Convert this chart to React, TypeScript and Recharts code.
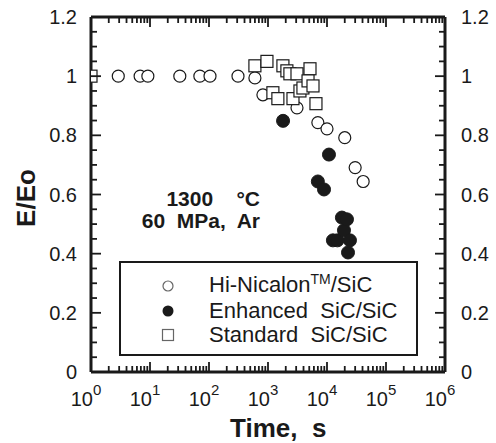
import React from "react";
import { ScatterChart, Scatter, XAxis, YAxis } from "recharts";

// E/Eo vs time (s)
const hiNicalonTime = [2.9, 6.8, 9.2, 32, 70, 104, 310, 600, 820, 3100, 7000, 10000, 20000, 30000, 41000];
const hiNicalonE = [1, 1, 1, 1, 1, 1, 1, 0.994, 0.937, 0.893, 0.843, 0.822, 0.792, 0.691, 0.644];

const enhancedTime = [1800, 7000, 8900, 10800, 12600, 15000, 17900, 19400, 21800, 24500, 22700];
const enhancedE = [0.849, 0.644, 0.617, 0.735, 0.445, 0.445, 0.522, 0.479, 0.516, 0.445, 0.404];

const standardTime = [1, 600, 960, 1790, 2090, 2350, 3100, 5150, 1210, 1470, 2650, 3480, 3910, 4770, 5790, 6500];
const standardE = [1, 1.035, 1.05, 1.035, 1.018, 1.008, 1.008, 1.025, 0.944, 0.924, 0.924, 0.95, 0.96, 0.984, 0.967, 0.907];

const xMajorTicks = [1, 10, 100, 1000, 10000, 100000, 1000000];
const xTickExponents = ["0", "1", "2", "3", "4", "5", "6"];
const yMajorTicks = [0, 0.2, 0.4, 0.6, 0.8, 1, 1.2];
const yTickLabels = ["0", "0.2", "0.4", "0.6", "0.8", "1", "1.2"];

// log minor ticks 2..9 per decade, linear minor every 0.05
const xAllTicks: number[] = [];
xMajorTicks.slice(0, -1).forEach((d) => {
  for (let m = 1; m < 10; m++) xAllTicks.push(d * m);
});
xAllTicks.push(xMajorTicks[xMajorTicks.length - 1]);
const yAllTicks: number[] = [];
for (let k = 0; k <= 24; k++) yAllTicks.push(k * 0.05);

const toPoints = (xs: number[], ys: number[]) => xs.map((x, i) => ({ x, y: ys[i] }));
const hiNicalon = toPoints(hiNicalonTime, hiNicalonE);
const enhanced = toPoints(enhancedTime, enhancedE);
const standard = toPoints(standardTime, standardE);

const FONT = "'Liberation Sans', Arial, Helvetica, sans-serif";
const INK = "#1a1a1a";

const majorX = (v: number) => xMajorTicks.indexOf(v);
const majorY = (v: number) => yMajorTicks.findIndex((t) => Math.abs(t - v) < 1e-6);

function BottomTick({ x, y, payload }: any) {
  const i = majorX(payload.value);
  const len = i >= 0 ? 10 : 6;
  return (
    <g>
      <line x1={x} x2={x} y1={y} y2={y - len} stroke={INK} strokeWidth={1.8} />
      {i >= 0 && (
        <text x={x - 5} y={y + 34} textAnchor="middle" fontFamily={FONT} fontSize={20} fill={INK}>
          10
          <tspan fontSize={15} dy={-11}>{xTickExponents[i]}</tspan>
        </text>
      )}
    </g>
  );
}

function TopTick({ x, y, payload }: any) {
  const len = majorX(payload.value) >= 0 ? 10 : 6;
  return <line x1={x} x2={x} y1={y} y2={y + len} stroke={INK} strokeWidth={1.8} />;
}

function LeftTick({ x, y, payload }: any) {
  const i = majorY(payload.value);
  const len = i >= 0 ? 10 : 6;
  return (
    <g>
      <line x1={x} x2={x + len} y1={y} y2={y} stroke={INK} strokeWidth={1.8} />
      {i >= 0 && (
        <text x={x - 14} y={y + 7} textAnchor="end" fontFamily={FONT} fontSize={20} fill={INK}>
          {yTickLabels[i]}
        </text>
      )}
    </g>
  );
}

function RightTick({ x, y, payload }: any) {
  const i = majorY(payload.value);
  const len = i >= 0 ? 10 : 6;
  return (
    <g>
      <line x1={x} x2={x - len} y1={y} y2={y} stroke={INK} strokeWidth={1.8} />
      {i >= 0 && (
        <text x={x + 16} y={y + 7} textAnchor="start" fontFamily={FONT} fontSize={20} fill={INK}>
          {yTickLabels[i]}
        </text>
      )}
    </g>
  );
}

const OpenCircle = ({ cx, cy }: any) => <circle cx={cx} cy={cy} r={6} fill="#fff" stroke={INK} strokeWidth={1.2} />;
const FilledCircle = ({ cx, cy }: any) => <circle cx={cx} cy={cy} r={6.5} fill={INK} stroke={INK} strokeWidth={1} />;
const OpenSquare = ({ cx, cy }: any) => (
  <rect x={cx - 6} y={cy - 6} width={12} height={12} fill="#fff" stroke={INK} strokeWidth={1.2} />
);

export default function App() {
  return (
    <div style={{ position: "absolute", left: 0, top: 0, width: 496, height: 443, background: "#fff", fontFamily: FONT }}>
      <ScatterChart width={496} height={443} margin={{ top: 16, right: 0, bottom: 0, left: 0 }}>
        <XAxis
          type="number"
          dataKey="x"
          scale="log"
          domain={[1, 1000000]}
          ticks={xAllTicks}
          interval={0}
          height={71}
          tickSize={0}
          tickMargin={0}
          tickLine={false}
          axisLine={{ stroke: INK, strokeWidth: 3 }}
          tick={<BottomTick />}
          allowDataOverflow
        />
        <XAxis
          xAxisId="top"
          orientation="top"
          type="number"
          dataKey="x"
          scale="log"
          domain={[1, 1000000]}
          ticks={xAllTicks}
          interval={0}
          height={1}
          tickSize={0}
          tickMargin={0}
          tickLine={false}
          axisLine={{ stroke: INK, strokeWidth: 3 }}
          tick={<TopTick />}
          allowDataOverflow
        />
        <YAxis
          type="number"
          dataKey="y"
          domain={[0, 1.2]}
          ticks={yAllTicks}
          interval={0}
          width={91}
          tickSize={0}
          tickMargin={0}
          tickLine={false}
          axisLine={{ stroke: INK, strokeWidth: 3 }}
          tick={<LeftTick />}
          allowDataOverflow
        />
        <YAxis
          yAxisId="right"
          orientation="right"
          type="number"
          dataKey="y"
          domain={[0, 1.2]}
          ticks={yAllTicks}
          interval={0}
          width={51}
          tickSize={0}
          tickMargin={0}
          tickLine={false}
          axisLine={{ stroke: INK, strokeWidth: 3 }}
          tick={<RightTick />}
          allowDataOverflow
        />
        <Scatter data={hiNicalon} shape={<OpenCircle />} isAnimationActive={false} />
        <Scatter data={standard} shape={<OpenSquare />} isAnimationActive={false} />
        <Scatter data={enhanced} shape={<FilledCircle />} isAnimationActive={false} />
      </ScatterChart>

      {/* axis titles */}
      <div
        style={{
          position: "absolute",
          left: 26,
          top: 198,
          transform: "translate(-50%, -50%) rotate(-90deg)",
          fontSize: 26,
          fontWeight: 700,
          color: INK,
          whiteSpace: "nowrap",
        }}
      >
        E/Eo
      </div>
      <div
        style={{ position: "absolute", left: 230, top: 413, fontSize: 26, fontWeight: 700, color: INK, whiteSpace: "pre" }}
      >
        {"Time,  s"}
      </div>

      {/* test conditions */}
      <div
        style={{
          position: "absolute",
          right: 496 - 260,
          top: 188,
          fontSize: 21,
          fontWeight: 700,
          color: INK,
          lineHeight: "22px",
          textAlign: "right",
          whiteSpace: "pre",
        }}
      >
        {"1300    °C\n60  MPa,  Ar"}
      </div>

      {/* legend */}
      <div
        style={{
          position: "absolute",
          left: 119,
          top: 261,
          width: 295,
          height: 91,
          border: `2px solid ${INK}`,
          background: "#fff",
          fontSize: 22,
          color: INK,
        }}
      >
        {[
          { label: <>Hi-Nicalon<span style={{ fontSize: 14, position: "relative", top: -8 }}>TM</span>/SiC</>, icon: "open" },
          { label: "Enhanced  SiC/SiC", icon: "filled" },
          { label: "Standard  SiC/SiC", icon: "square" },
        ].map((row, i) => (
          <div key={i} style={{ position: "absolute", left: 40, top: 11 + i * 24.5, height: 24, display: "flex", alignItems: "center", whiteSpace: "pre" }}>
            <svg width={14} height={14} style={{ marginRight: 34 }}>
              {row.icon === "open" && <circle cx={7} cy={7} r={5} fill="#fff" stroke="#666" strokeWidth={1.2} />}
              {row.icon === "filled" && <circle cx={7} cy={7} r={5.5} fill={INK} />}
              {row.icon === "square" && <rect x={1.5} y={1.5} width={11} height={11} fill="#fff" stroke="#666" strokeWidth={1.2} />}
            </svg>
            <span style={{ lineHeight: "22px" }}>{row.label}</span>
          </div>
        ))}
      </div>
    </div>
  );
}
